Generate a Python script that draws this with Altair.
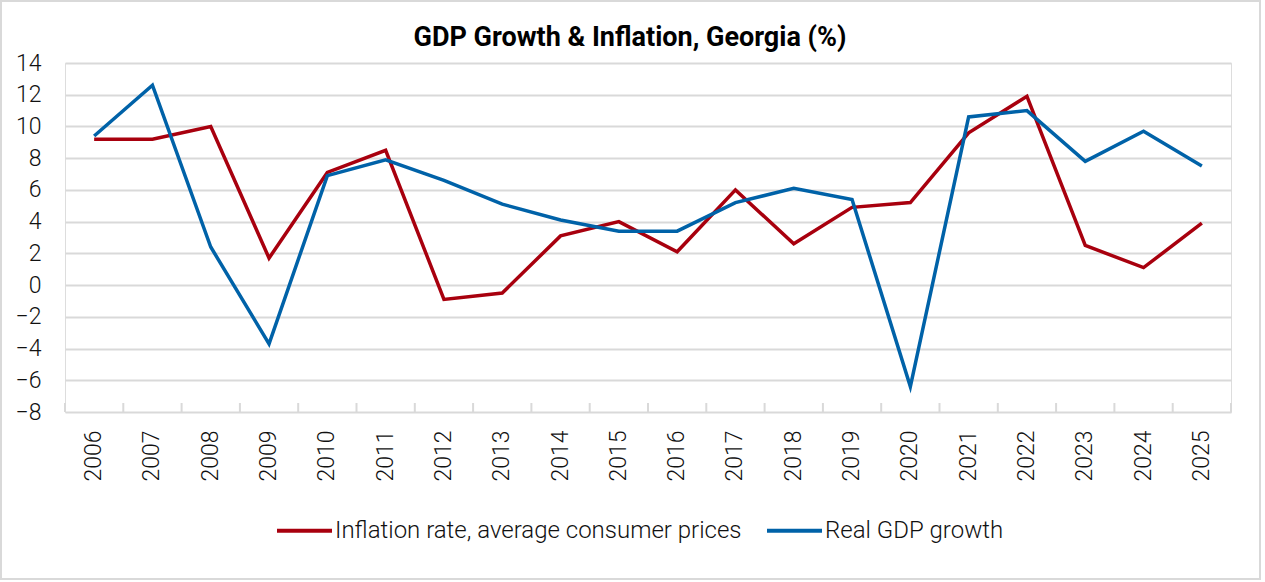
import altair as alt
import pandas as pd

# Annual figures, percent
years = [str(y) for y in range(2006, 2026)]
inflation = [9.2, 9.2, 10.0, 1.7, 7.1, 8.5, -0.9, -0.5, 3.1, 4.0,
             2.1, 6.0, 2.6, 4.9, 5.2, 9.6, 11.9, 2.5, 1.1, 3.9]
gdp_growth = [9.4, 12.6, 2.4, -3.7, 6.9, 7.9, 6.6, 5.1, 4.1, 3.4,
              3.4, 5.2, 6.1, 5.4, -6.4, 10.6, 11.0, 7.8, 9.7, 7.5]
series_names = ["Inflation rate, average consumer prices", "Real GDP growth"]
series_colors = ["#A8000E", "#0062A8"]
y_ticks = list(range(-8, 16, 2))

W, H = 1166, 349
FONT = "Roboto"
GRID = "#d9d9d9"

df = pd.DataFrame({
    "year": years * 2,
    "value": inflation + gdp_growth,
    "series": [series_names[0]] * len(years) + [series_names[1]] * len(years),
})
years_df = pd.DataFrame({"year": years})

x_scale = alt.Scale(type="band", domain=years, paddingInner=0, paddingOuter=0)
y_scale = alt.Scale(domain=[-8, 14], nice=False)

lines = alt.Chart(df).mark_line(strokeWidth=3.5, strokeJoin="miter").encode(
    x=alt.X("year:O", scale=x_scale, bandPosition=0.5, title=None,
            axis=alt.Axis(labelAngle=-90, labelAlign="right", labelBaseline="middle",
                          labelPadding=18, ticks=False, domain=False,
                          labelFont=FONT, labelFontWeight=300, labelFontSize=23,
                          labelColor="#111111")),
    y=alt.Y("value:Q", scale=y_scale, title=None,
            axis=alt.Axis(values=y_ticks, grid=True, gridColor=GRID, gridWidth=2,
                          domain=False, ticks=False, labelPadding=24,
                          labelFont=FONT, labelFontWeight=300, labelFontSize=23,
                          labelColor="#111111")),
    color=alt.Color("series:N", sort=series_names,
                    scale=alt.Scale(domain=series_names, range=series_colors),
                    legend=alt.Legend(title=None, orient="none", direction="horizontal",
                                      legendX=210, legendY=438,
                                      symbolType="stroke", symbolSize=3025,
                                      symbolStrokeWidth=4, labelOffset=1,
                                      columnPadding=17, labelFont=FONT,
                                      labelFontWeight=300, labelFontSize=24,
                                      labelColor="#111111", labelLimit=600)),
)

# category tick marks standing on the bottom axis line, at band edges
ticks_left = alt.Chart(years_df).mark_rule(color=GRID, strokeWidth=2).encode(
    x=alt.X("year:O", scale=x_scale, bandPosition=0),
    y=alt.value(H - 9), y2=alt.value(H),
)
ticks_right = alt.Chart(years_df.tail(1)).mark_rule(color=GRID, strokeWidth=2).encode(
    x=alt.X("year:O", scale=x_scale, bandPosition=1),
    y=alt.value(H - 9), y2=alt.value(H),
)

# thin frame around the whole figure
frame = alt.Chart(pd.DataFrame({"k": [0]})).mark_rect(
    fill=None, stroke=GRID, strokeWidth=2
).encode(
    x=alt.value(-64), x2=alt.value(W + 29),
    y=alt.value(-62), y2=alt.value(H + 167),
)

chart = alt.layer(frame, ticks_left, ticks_right, lines).properties(
    width=W, height=H,
    title=alt.TitleParams("GDP Growth & Inflation, Georgia (%)", font=FONT,
                          fontSize=27, fontWeight="bold", color="#000000",
                          anchor="middle", dx=-18, offset=0, dy=52),
    autosize=alt.AutoSizeParams(type="none"),
    padding={"left": 65, "top": 63, "right": 34, "bottom": 170},
).configure_view(stroke=None).configure(background="white")

chart.save("out.html", embed_options={"renderer": "svg", "actions": False})
